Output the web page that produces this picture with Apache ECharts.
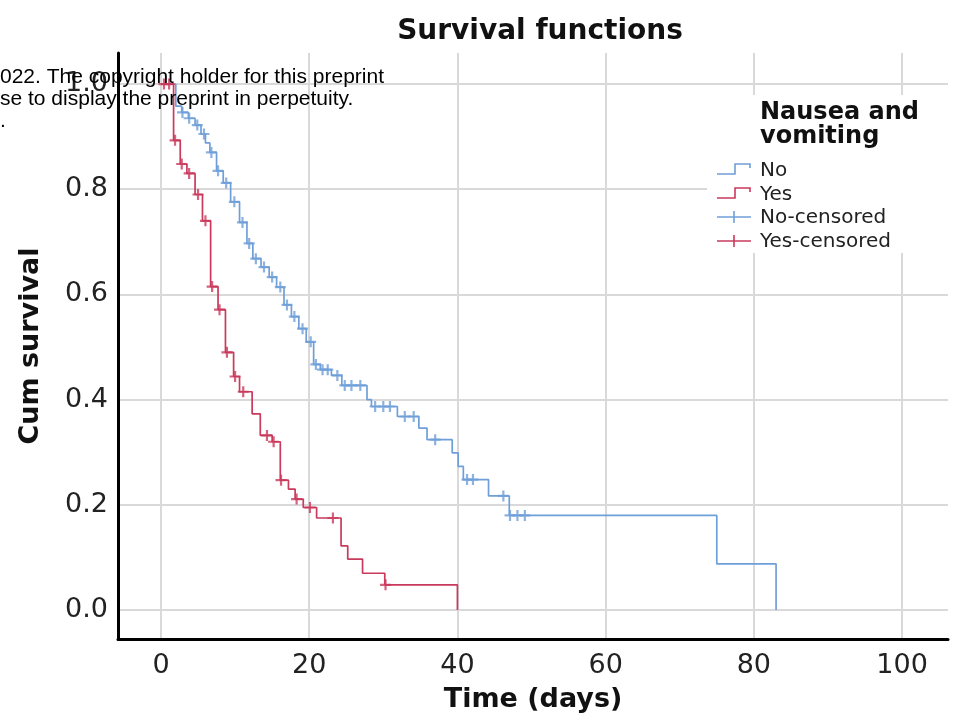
<!DOCTYPE html>
<html>
<head>
<meta charset="utf-8">
<script src="https://cdn.jsdelivr.net/npm/echarts@6/dist/echarts.min.js"></script>
<style>
  html, body { margin: 0; padding: 0; background: #fff; }
  #chart { width: 960px; height: 727px; }
</style>
</head>
<body>
<div id="chart"></div>
<script>
// ---- data (Kaplan-Meier step curves) ----
const noTimes = [0, 2.0, 2.8, 3.7, 4.6, 5.4, 6.0, 6.6, 7.5, 8.4, 9.4, 10.6, 11.6, 12.4, 13.5, 14.6, 15.6, 16.6, 17.6, 18.6, 19.6, 20.6, 21.5, 23.0, 24.4, 27.8, 28.4, 31.9, 34.8, 35.9, 39.3, 40.1, 40.8, 44.2, 47.0, 75.0, 83.0];
const noSurv  = [1.0, 0.958, 0.946, 0.935, 0.922, 0.905, 0.888, 0.87, 0.835, 0.812, 0.776, 0.737, 0.697, 0.668, 0.652, 0.633, 0.614, 0.58, 0.558, 0.535, 0.51, 0.467, 0.457, 0.446, 0.427, 0.4, 0.387, 0.368, 0.346, 0.324, 0.299, 0.273, 0.248, 0.217, 0.18, 0.088, 0.0];
const noCensored = [2.9, 3.8, 4.9, 5.8, 6.8, 7.7, 8.8, 9.9, 11.0, 11.9, 12.8, 13.9, 15.0, 16.1, 17.0, 18.0, 19.1, 20.2, 20.9, 21.8, 22.5, 23.8, 24.8, 25.7, 26.9, 28.9, 30.0, 30.9, 32.9, 34.1, 37.0, 41.3, 42.1, 46.2, 47.1, 48.1, 49.1];

const yesTimes = [0, 1.7, 2.6, 3.5, 4.6, 5.6, 6.7, 7.7, 8.7, 9.8, 10.6, 12.3, 13.4, 15.0, 16.1, 17.2, 18.1, 19.2, 21.0, 24.3, 25.2, 27.2, 30.2, 40.0];
const yesSurv  = [1.0, 0.893, 0.848, 0.83, 0.79, 0.74, 0.615, 0.571, 0.49, 0.444, 0.415, 0.373, 0.332, 0.32, 0.247, 0.23, 0.211, 0.195, 0.175, 0.122, 0.097, 0.07, 0.048, 0.0];
const yesCensored = [0.4, 1.1, 1.9, 2.8, 3.8, 5.0, 6.0, 6.9, 7.9, 8.9, 10.0, 11.1, 14.3, 15.2, 16.2, 18.3, 20.1, 23.2, 30.3];

const xTicks = [0, 20, 40, 60, 80, 100];
const yTicks = [0.0, 0.2, 0.4, 0.6, 0.8, 1.0];
const legendTitle = ['Nausea and', 'vomiting'];
const legendNames = ['No', 'Yes', 'No-censored', 'Yes-censored'];

// ---- helpers ----
const BLUE = '#6f9fd8';
const RED = '#c93a5c';
const FONT = 'DejaVu Sans';
function stepPairs(t, s) { return t.map((v, i) => [v, s[i]]); }
function survAt(t, s, x) {
  let v = s[0];
  for (let i = 0; i < t.length; i++) { if (t[i] <= x) v = s[i]; }
  return v;
}
function censorPairs(t, s, c) { return c.map(x => [x, survAt(t, s, x)]); }
const PLUS = 'path://M8,0 H12 V8 H20 V12 H12 V20 H8 V12 H0 V8 H8 Z';
function isTick(v, list) { return list.some(t => Math.abs(t - v) < 1e-6); }

const chart = echarts.init(document.getElementById('chart'));

// legend drawn as graphic elements
const lgX = 717, lgTextX = 760;
const lgRows = [170, 194, 217, 241];
const legendGraphics = [
  { type: 'rect', shape: { x: 707, y: 95, width: 246, height: 158 }, style: { fill: '#fff' }, z: 5 },
  { type: 'text', x: lgTextX, y: 101, style: { text: legendTitle[0], font: 'bold 24px "DejaVu Sans"', fill: '#111' }, z: 6 },
  { type: 'text', x: lgTextX, y: 125, style: { text: legendTitle[1], font: 'bold 24px "DejaVu Sans"', fill: '#111' }, z: 6 }
];
const lgColors = [BLUE, RED, BLUE, RED];
legendNames.forEach((name, i) => {
  const cy = lgRows[i];
  if (i < 2) {
    legendGraphics.push({ type: 'polyline', shape: { points: [[lgX, cy + 4], [lgX + 18, cy + 4], [lgX + 18, cy - 6], [lgX + 33, cy - 6], [lgX + 33, cy - 2]] },
      style: { stroke: lgColors[i], lineWidth: 1.6, fill: null }, z: 6 });
  } else {
    legendGraphics.push({ type: 'line', shape: { x1: lgX, y1: cy, x2: lgX + 34, y2: cy }, style: { stroke: lgColors[i], lineWidth: 1.6 }, z: 6 });
    legendGraphics.push({ type: 'line', shape: { x1: lgX + 17, y1: cy - 6, x2: lgX + 17, y2: cy + 6 }, style: { stroke: lgColors[i], lineWidth: 1.6 }, z: 6 });
  }
  legendGraphics.push({ type: 'text', x: lgTextX, y: cy + 1, style: { text: name, font: '20px "DejaVu Sans"', fill: '#222', verticalAlign: 'middle' }, z: 6 });
});

// preprint watermark overlay
const wmFont = '21px "Liberation Sans", Arial, sans-serif';
const watermark = [
  { type: 'text', x: 0, y: 67, style: { text: '022. The copyright holder for this preprint', font: wmFont, fill: '#000' }, z: 100 },
  { type: 'text', x: 0, y: 89, style: { text: 'se to display the preprint in perpetuity.', font: wmFont, fill: '#000' }, z: 100 },
  { type: 'text', x: 0, y: 111, style: { text: '.', font: wmFont, fill: '#000' }, z: 100 }
];

chart.setOption({
  animation: false,
  backgroundColor: '#fff',
  title: {
    text: 'Survival functions',
    left: 535, top: 13, textAlign: 'center',
    textStyle: { fontFamily: FONT, fontWeight: 'bold', fontSize: 28, color: '#111' }
  },
  grid: { left: 118, right: 12, top: 53, bottom: 88, containLabel: false, outerBoundsMode: 'none' },
  xAxis: {
    type: 'value', min: -5.8, max: 106.2,
    name: 'Time (days)', nameLocation: 'middle', nameGap: 47,
    nameTextStyle: { fontFamily: FONT, fontWeight: 'bold', fontSize: 27, color: '#111' },
    axisLine: { onZero: false, lineStyle: { color: '#000', width: 3 } },
    axisTick: { show: false },
    axisLabel: { margin: 13, fontFamily: FONT, fontSize: 27, color: '#222',
      formatter: v => isTick(v, xTicks) ? String(Math.round(v)) : '' },
    splitLine: { show: true, showMinLine: false, showMaxLine: false, lineStyle: { color: '#d9d9d9', width: 2 } }
  },
  yAxis: {
    type: 'value', min: -0.055, max: 1.059,
    name: 'Cum survival', nameLocation: 'middle', nameGap: 74, nameRotate: 90,
    nameTextStyle: { fontFamily: FONT, fontWeight: 'bold', fontSize: 27, color: '#111' },
    axisLine: { onZero: false, lineStyle: { color: '#000', width: 3 } },
    axisTick: { show: false },
    axisLabel: { margin: 10, fontFamily: FONT, fontSize: 27, color: '#222',
      formatter: v => isTick(v, yTicks) ? v.toFixed(1) : '' },
    splitLine: { show: true, showMinLine: false, showMaxLine: false, lineStyle: { color: '#d9d9d9', width: 2 } }
  },
  series: [
    { name: 'No', type: 'line', step: 'end', data: stepPairs(noTimes, noSurv), showSymbol: false, symbol: 'none',
      lineStyle: { color: BLUE, width: 1.7 }, itemStyle: { color: BLUE }, z: 2 },
    { name: 'No-censored', type: 'scatter', data: censorPairs(noTimes, noSurv, noCensored), symbol: PLUS, symbolSize: 11,
      itemStyle: { color: BLUE }, z: 3 },
    { name: 'Yes', type: 'line', step: 'end', data: stepPairs(yesTimes, yesSurv), showSymbol: false, symbol: 'none',
      lineStyle: { color: RED, width: 1.7 }, itemStyle: { color: RED }, z: 4 },
    { name: 'Yes-censored', type: 'scatter', data: censorPairs(yesTimes, yesSurv, yesCensored), symbol: PLUS, symbolSize: 11,
      itemStyle: { color: RED }, z: 5 }
  ],
  graphic: legendGraphics.concat(watermark)
});
</script>
</body>
</html>
